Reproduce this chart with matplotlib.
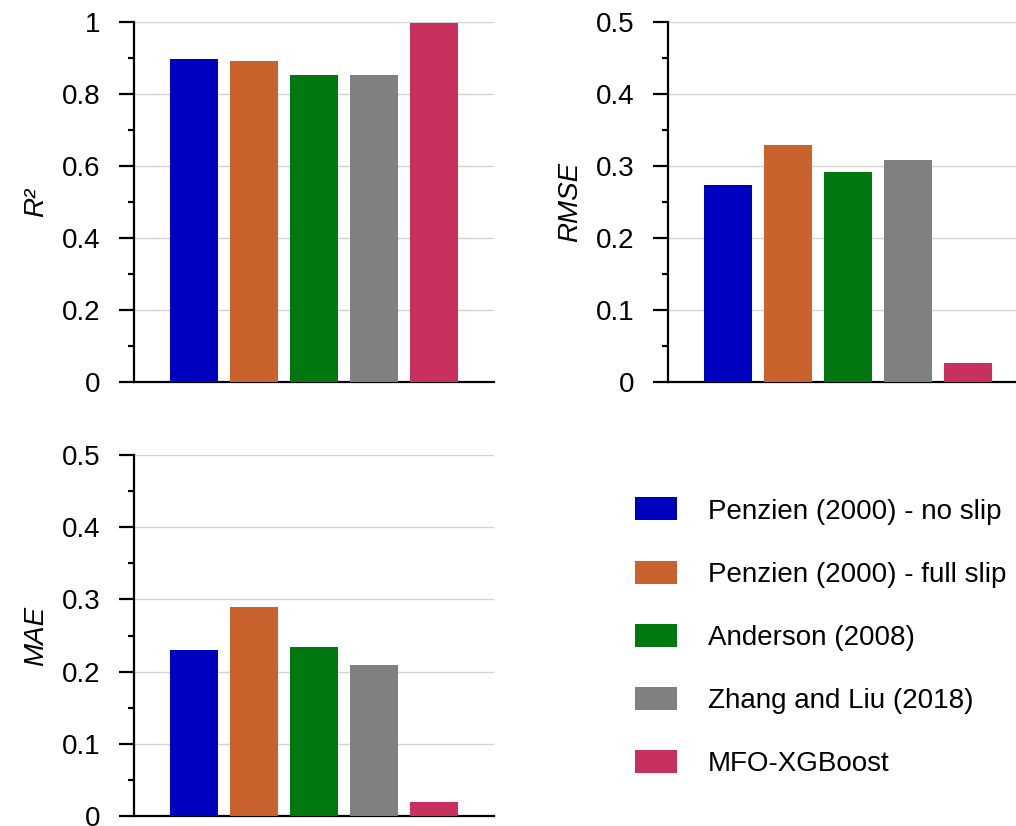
import matplotlib
matplotlib.use("Agg")
import matplotlib.pyplot as plt
from matplotlib.patches import Patch
from matplotlib.ticker import MultipleLocator

plt.rcParams['font.family'] = ['Liberation Sans', 'DejaVu Sans']

models = ["Penzien (2000) - no slip", "Penzien (2000) - full slip",
          "Anderson (2008)", "Zhang and Liu (2018)", "MFO-XGBoost"]
colors = ["#0000BF", "#C9622D", "#00780F", "#808080", "#C8305E"]

r2 = [0.896, 0.891, 0.854, 0.854, 0.997]
rmse = [0.273, 0.329, 0.291, 0.308, 0.027]
mae = [0.230, 0.289, 0.234, 0.209, 0.019]

W, H = 1016, 826
fig = plt.figure(figsize=(W / 100, H / 100), dpi=100)

def px_axes(left, top, width, bottom):
    return fig.add_axes([left / W, 1 - bottom / H, width / W, (bottom - top) / H])

ax1 = px_axes(134, 22, 360, 382)
ax2 = px_axes(667.7, 22, 360, 382)
ax3 = px_axes(134, 455, 360, 816)

panels = [(ax1, r2, 1.0, 0.2, "R²"),
          (ax2, rmse, 0.5, 0.1, "RMSE"),
          (ax3, mae, 0.5, 0.1, "MAE")]

for ax, vals, ymax, step, lab in panels:
    x = list(range(len(vals)))
    ax.bar(x, vals, width=0.8, color=colors, zorder=3)
    ax.set_xlim(-1, 5)
    ax.set_ylim(0, ymax)
    ax.yaxis.set_major_locator(MultipleLocator(step))
    ax.yaxis.set_minor_locator(MultipleLocator(step / 2))
    ax.yaxis.set_major_formatter(plt.FuncFormatter(lambda v, p: f"{v:g}"))
    ax.set_xticks([])
    ax.grid(axis='y', which='major', color='#d3d3d3', linewidth=1.0, zorder=0)
    for s in ['top', 'right']:
        ax.spines[s].set_visible(False)
    for s in ['left', 'bottom']:
        ax.spines[s].set_linewidth(1.6)
        ax.spines[s].set_color('black')
    ax.tick_params(axis='y', which='major', direction='out', length=11, width=1.6,
                   labelsize=20, pad=13)
    ax.tick_params(axis='y', which='minor', direction='out', length=4.5, width=1.6)
    ax.set_ylabel(lab, fontsize=20, style='italic', labelpad=9)

handles = [Patch(facecolor=c, edgecolor='none') for c in colors]
fig.legend(handles, models, loc='center left',
           bbox_to_anchor=(635 / W, 1 - 637.4 / H), frameon=False,
           fontsize=20, handlelength=1.51, handleheight=0.9,
           handletextpad=1.1, labelspacing=1.3, borderpad=0, borderaxespad=0)

fig.savefig("out.png", dpi=100)
